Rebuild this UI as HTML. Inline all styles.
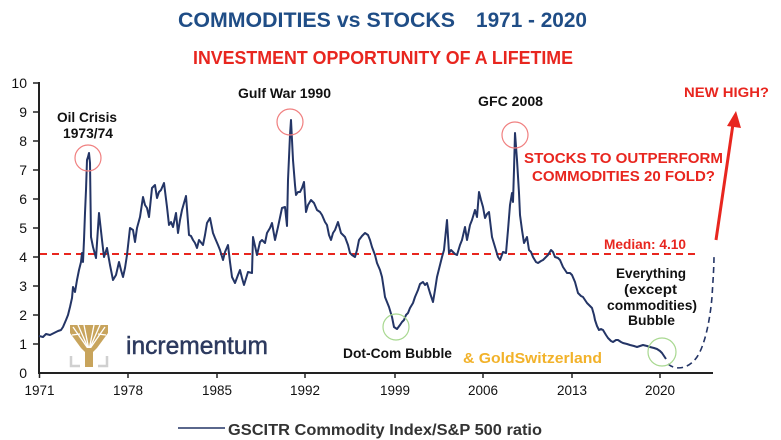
<!DOCTYPE html>
<html><head><meta charset="utf-8">
<style>
html,body{margin:0;padding:0;background:#fff;}
svg{display:block;}
text{font-family:"Liberation Sans",Arial,sans-serif;}
</style></head>
<body>
<svg width="781" height="440" viewBox="0 0 781 440" xmlns="http://www.w3.org/2000/svg">
<rect width="781" height="440" fill="#fff"/>
<!-- titles -->
<text x="178" y="27" font-size="21" font-weight="bold" fill="#1f4d86" textLength="277" lengthAdjust="spacingAndGlyphs">COMMODITIES vs STOCKS</text>
<text x="476" y="27" font-size="21" font-weight="bold" fill="#1f4d86" textLength="111" lengthAdjust="spacingAndGlyphs">1971 - 2020</text>
<text x="193" y="64" font-size="18" font-weight="bold" fill="#e8261f" textLength="380" lengthAdjust="spacingAndGlyphs">INVESTMENT OPPORTUNITY OF A LIFETIME</text>

<!-- y axis labels -->
<g font-size="14" fill="#111" text-anchor="end">
<text x="27" y="88">10</text>
<text x="27" y="117">9</text>
<text x="27" y="146">8</text>
<text x="27" y="175">7</text>
<text x="27" y="204">6</text>
<text x="27" y="233">5</text>
<text x="27" y="262">4</text>
<text x="27" y="291">3</text>
<text x="27" y="320">2</text>
<text x="27" y="349">1</text>
<text x="27" y="378">0</text>
</g>
<g stroke="#222" stroke-width="1.5">
<line x1="33" y1="83" x2="39" y2="83"/>
<line x1="33" y1="112" x2="39" y2="112"/>
<line x1="33" y1="141" x2="39" y2="141"/>
<line x1="33" y1="170" x2="39" y2="170"/>
<line x1="33" y1="199" x2="39" y2="199"/>
<line x1="33" y1="228" x2="39" y2="228"/>
<line x1="33" y1="257" x2="39" y2="257"/>
<line x1="33" y1="286" x2="39" y2="286"/>
<line x1="33" y1="315" x2="39" y2="315"/>
<line x1="33" y1="344" x2="39" y2="344"/>
<line x1="39.5" y1="373" x2="39.5" y2="378"/>
<line x1="128" y1="373" x2="128" y2="378"/>
<line x1="217" y1="373" x2="217" y2="378"/>
<line x1="305" y1="373" x2="305" y2="378"/>
<line x1="395" y1="373" x2="395" y2="378"/>
<line x1="483" y1="373" x2="483" y2="378"/>
<line x1="572" y1="373" x2="572" y2="378"/>
<line x1="660" y1="373" x2="660" y2="378"/>
</g>
<line x1="39" y1="82" x2="39" y2="374" stroke="#222" stroke-width="2"/>
<line x1="38" y1="373" x2="713" y2="373" stroke="#222" stroke-width="2"/>

<g font-size="13.5" fill="#111" text-anchor="middle">
<text x="39.5" y="395">1971</text>
<text x="128" y="395">1978</text>
<text x="217" y="395">1985</text>
<text x="305" y="395">1992</text>
<text x="395" y="395">1999</text>
<text x="483" y="395">2006</text>
<text x="572" y="395">2013</text>
<text x="660" y="395">2020</text>
</g>

<!-- median -->
<line x1="40" y1="254" x2="699" y2="254" stroke="#e8261f" stroke-width="2" stroke-dasharray="7,5"/>

<!-- logo -->
<g>
<path d="M70,325 L108,325 L108,333 L97,348 L93,352 L85,352 L81,348 L70,333 Z" fill="#c8a45c"/>
<g stroke="#fff" stroke-width="1.3" fill="none">
<path d="M89,350 L73,327"/><path d="M89,350 L78,325"/><path d="M89,350 L84,325"/>
<path d="M89,350 L94,325"/><path d="M89,350 L100,325"/><path d="M89,350 L105,327"/>
<path d="M72,335 L80,334"/><path d="M106,335 L98,334"/>
</g>
<rect x="85" y="348" width="8" height="19" fill="#c8a45c"/>
<path d="M71,356 L71,366 L80,366" stroke="#d0d0d0" stroke-width="2.5" fill="none"/>
<path d="M107,356 L107,366 L98,366" stroke="#d0d0d0" stroke-width="2.5" fill="none"/>
</g>
<text x="126" y="354" font-size="25" fill="#2d3a5f" stroke="#2d3a5f" stroke-width="0.5" textLength="142" lengthAdjust="spacingAndGlyphs">incrementum</text>

<!-- series -->
<polyline fill="none" stroke="#243566" stroke-width="2" stroke-linejoin="round" points="39,336 43,337 46,334 50,335 54,333 58,331 61,330 63,327 66,320 68,315 70,307 72,298 73,287 75,292 77,280 79,270 81,262 82,253 83,262 84,240 85,213 86,190 87,160 88,157 89,153 90,163 91,237 93,247 96,258 99,213 102,240 104,257 107,248 110,265 113,280 116,275 119,262 121,270 123,277 125,268 127,255 130,228 133,230 135,242 137,228 140,217 143,197 145,205 147,208 149,217 152,188 155,185 157,198 159,192 161,190 164,183 167,207 169,225 171,222 173,227 176,213 178,233 180,220 182,210 186,196 189,235 191,236 193,240 195,243 197,248 199,240 203,245 205,235 207,223 210,218 213,233 215,238 218,245 220,250 223,260 225,252 228,245 230,262 232,277 235,283 238,275 240,270 242,278 244,285 248,272 252,273 253,237 257,255 260,242 262,240 265,243 267,233 270,228 272,223 275,240 278,227 282,208 285,207 287,226 288,180 290,135 291,120 292,140 293,160 295,185 296,195 298,192 300,192 302,188 304,182 306,212 308,205 311,200 314,203 317,210 320,212 322,215 325,222 327,225 329,235 331,240 333,233 335,230 338,222 341,233 343,235 345,237 348,245 350,253 352,255 355,257 357,250 359,240 362,236 365,233 368,235 370,240 372,247 375,255 377,263 380,270 382,277 384,290 385,297 387,302 389,307 392,317 394,327 397,329 400,325 402,322 404,320 406,315 408,313 410,308 413,303 415,297 418,290 420,284 423,282 425,285 427,283 430,293 433,302 435,290 437,277 440,265 442,257 444,250 447,220 449,253 451,250 453,252 455,254 457,255 460,245 462,240 465,227 467,240 470,225 472,220 475,210 477,217 479,192 481,200 483,207 485,218 487,214 489,212 492,237 495,247 498,257 500,260 503,252 506,253 508,230 510,205 512,193 513,202 514,170 515,133 517,160 519,193 520,215 522,230 524,243 527,237 529,250 531,252 533,257 536,262 538,263 541,261 543,260 546,257 548,255 551,250 553,252 555,257 558,258 560,260 563,267 565,270 567,273 570,273 572,275 575,282 578,293 581,296 583,297 585,300 587,303 590,306 592,308 594,315 595,320 597,326 599,330 601,329 603,330 606,335 608,338 611,341 613,342 616,340 618,340 621,342 623,343 627,344 630,345 634,346 637,347 640,346 643,345 647,346 650,347 654,348 657,349 660,351 662,353 664,356 666,359"/>

<!-- dashed projection -->
<path d="M668,364 C675,370 688,370 697,357 C705,345 710,320 712,297 C713,280 714,268 714,255" fill="none" stroke="#243566" stroke-width="1.6" stroke-dasharray="6,4"/>

<!-- red arrow -->
<line x1="716" y1="240" x2="733" y2="124" stroke="#e8261f" stroke-width="3"/>
<polygon points="736,111 741,128 727,126" fill="#e8261f"/>

<!-- circles -->
<g fill="none" stroke-width="1.2">
<circle cx="88" cy="158" r="13" stroke="#f08080"/>
<circle cx="290" cy="122" r="13" stroke="#f08080"/>
<circle cx="515" cy="135" r="13" stroke="#f08080"/>
<circle cx="396" cy="327" r="13" stroke="#a8d890"/>
<circle cx="662" cy="352" r="14" stroke="#a8d890"/>
</g>

<!-- annotations -->
<g font-size="14" font-weight="bold" fill="#111" text-anchor="middle">
<text x="87" y="122" textLength="60" lengthAdjust="spacingAndGlyphs">Oil Crisis</text>
<text x="88" y="138" textLength="50" lengthAdjust="spacingAndGlyphs">1973/74</text>
<text x="284.5" y="98" textLength="93" lengthAdjust="spacingAndGlyphs">Gulf War 1990</text>
<text x="510.5" y="106" textLength="65" lengthAdjust="spacingAndGlyphs">GFC 2008</text>
<text x="397.5" y="358" textLength="109" lengthAdjust="spacingAndGlyphs">Dot-Com Bubble</text>
<text x="651" y="278" textLength="70" lengthAdjust="spacingAndGlyphs">Everything</text>
<text x="650.5" y="294" textLength="53" lengthAdjust="spacingAndGlyphs">(except</text>
<text x="652" y="310" textLength="90" lengthAdjust="spacingAndGlyphs">commodities)</text>
<text x="651.5" y="325" textLength="47" lengthAdjust="spacingAndGlyphs">Bubble</text>
</g>
<g font-weight="bold" fill="#e8261f" text-anchor="middle">
<text x="726.5" y="97" font-size="13.5" textLength="85" lengthAdjust="spacingAndGlyphs">NEW HIGH?</text>
<text x="623.5" y="163" font-size="14.5" textLength="199" lengthAdjust="spacingAndGlyphs">STOCKS TO OUTPERFORM</text>
<text x="623.5" y="181" font-size="14.5" textLength="183" lengthAdjust="spacingAndGlyphs">COMMODITIES 20 FOLD?</text>
<text x="645" y="249" font-size="13.5" textLength="82" lengthAdjust="spacingAndGlyphs">Median: 4.10</text>
</g>
<text x="463" y="363" font-size="15" font-weight="bold" fill="#f2b22a" textLength="139" lengthAdjust="spacingAndGlyphs">&amp; GoldSwitzerland</text>

<!-- legend -->
<line x1="178" y1="428" x2="225" y2="428" stroke="#243566" stroke-width="1.5"/>
<text x="228" y="435" font-size="16" font-weight="bold" fill="#333" textLength="314" lengthAdjust="spacingAndGlyphs">GSCITR Commodity Index/S&amp;P 500 ratio</text>
</svg>
</body></html>
